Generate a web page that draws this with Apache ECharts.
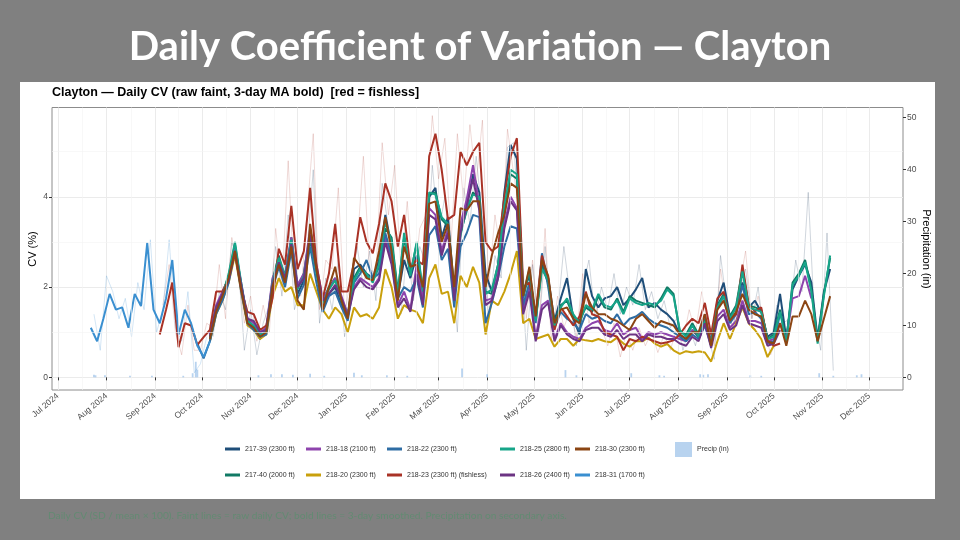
<!DOCTYPE html>
<html><head><meta charset="utf-8">
<script src="https://cdn.jsdelivr.net/npm/echarts@6/dist/echarts.min.js"></script>
<style>html,body{margin:0;padding:0;background:#808080;}#c{width:960px;height:540px;}</style>
</head><body><div id="c"></div>
<script>
// ---------- tick labels ----------
const monthTicks = ['2024-07-01','2024-08-01','2024-09-01','2024-10-01','2024-11-01','2024-12-01','2025-01-01','2025-02-01','2025-03-01','2025-04-01','2025-05-01','2025-06-01','2025-07-01','2025-08-01','2025-09-01','2025-10-01','2025-11-01','2025-12-01'];
const monthLabels = ['Jul 2024','Aug 2024','Sep 2024','Oct 2024','Nov 2024','Dec 2024','Jan 2025','Feb 2025','Mar 2025','Apr 2025','May 2025','Jun 2025','Jul 2025','Aug 2025','Sep 2025','Oct 2025','Nov 2025','Dec 2025'];
const cvTicks = [0, 2, 4];
const cvMinorTicks = [1, 3, 5];
const precipTicks = [0, 10, 20, 30, 40, 50];

// ---------- sampling grid of the 3-day MA lines (every 4 days) ----------
const gridStart = '2024-07-22';
const gridStepDays = 4;
const gridCount = 119;
// ---------- sampling grid of the raw lines (every 4 days, offset) ----------
const rawStart = '2024-07-20';
const rawCount = 120;

// ---------- 3-day MA CV (%) per site; start_* = first grid index ----------
const start_218_31 = 0;
const cv_218_31 = [1.1,0.8,1.3,1.85,1.5,1.55,1.1,1.85,1.58,2.98,1.5,1.2,1.75,2.6,0.95,1.5,1.2,0.7,0.45,0.8];

const start_218_23 = 11;
const cv_218_23 = [0.95,1.5,2.1,0.67,1.2,1.15,0.72,0.89,1.05,1.9,
 1.9,2.2,2.75,1.95,1.45,1.4,1.05,1.15,1.75,2.85,
 2.5,3.8,2.4,2.8,4.2,2.5,1.75,2.3,3.4,1.9,
 1.9,2.55,3.55,3.0,2.75,3.4,4.3,3.9,2.9,3.6,
 2.45,2.6,2.5,4.9,5.4,4.6,3.5,3.6,5.0,4.7,
 5.0,5.2,3.0,2.8,2.9,4.0,4.9,5.3,2.0,2.1,
 1.4,2.7,2.2,1.05,1.55,1.35,1.15,1.35,1.9,1.4,
 1.35,1.0,0.95,0.9,0.6,0.85,0.8,0.9,0.85,0.8,
 0.75,0.78,0.82,0.95,1.15,1.3,1.2,1.65,0.95,1.75,
 1.9,1.3,1.4,2.5,1.6,1.47,1.55,0.8,0.7,0.75];

const start_218_20 = 19;
const cv_218_20 = [0.8,1.4,1.7,2.1,2.7,1.9,1.15,1.05,0.85,0.95,
 1.8,2.2,1.9,2.0,1.6,1.6,2.3,1.9,1.5,1.3,
 1.55,1.4,1.0,1.55,1.35,1.4,1.3,1.55,2.4,2.0,
 1.3,1.6,1.5,1.45,1.2,2.2,2.5,1.85,1.9,1.2,
 2.25,2.0,2.45,2.1,0.95,1.7,1.6,1.9,2.3,2.8,
 1.2,1.3,0.85,0.9,0.95,0.68,0.85,0.85,0.7,0.85,
 0.82,0.8,0.85,0.8,0.78,0.88,0.75,0.68,0.8,0.8,
 0.88,0.75,0.68,0.74,0.6,0.52,0.58,0.55,0.58,0.55,
 0.35,0.8,1.2,0.85,1.2,1.55,1.2,1.05,0.85,0.45,
 0.7];

const start_217_39 = 19;
const cv_217_39 = [0.8,1.45,1.75,2.15,2.9,2.0,1.2,1.1,0.9,1.0,
 2.0,2.55,2.1,2.9,1.85,2.15,3.05,2.4,1.55,1.85,
 2.0,1.6,1.3,2.4,2.5,2.3,2.2,2.6,3.6,2.9,
 1.8,2.6,2.2,2.7,1.9,4.0,4.2,3.1,3.55,1.9,
 3.3,3.8,4.5,4.1,2.3,1.9,2.5,4.1,5.15,4.85,
 1.9,2.25,1.35,2.5,2.2,1.25,1.75,2.2,1.3,0.95,
 2.4,1.8,1.55,1.75,1.8,2.0,1.6,1.75,1.95,2.2,
 1.55,1.65,1.5,1.4,1.25,0.95,0.85,1.05,0.9,1.2,
 0.8,1.7,2.1,1.35,1.55,2.1,1.55,1.7,1.45,0.9,
 1.0,1.85,0.85,1.95,2.25,2.5,2.1,0.85,1.9,2.4];

const start_217_40 = 19;
const cv_217_40 = [0.9,1.5,1.85,2.25,2.95,2.05,1.3,1.1,0.85,1.05,
 2.15,2.7,2.2,3.1,2.0,2.3,3.2,2.35,1.7,2.0,
 2.2,1.75,1.4,2.2,2.45,2.25,2.15,2.45,3.3,3.1,
 1.9,3.1,2.3,2.95,1.85,4.05,4.1,3.5,3.35,1.85,
 3.2,3.7,4.1,3.95,1.9,1.85,2.45,3.6,4.5,4.4,
 1.75,2.35,1.3,2.45,2.1,1.2,1.6,1.7,1.35,1.25,
 1.55,1.45,1.8,1.55,1.5,1.75,1.45,1.8,1.7,1.65,
 1.6,1.55,1.75,2.0,1.85,1.0,0.95,1.2,0.95,1.3,
 0.8,1.6,1.85,1.35,1.6,2.4,1.6,1.55,1.5,0.85,
 0.95,1.5,0.8,2.1,2.3,2.6,1.95,0.8,1.85,2.65];

const start_218_18 = 19;
const cv_218_18 = [0.95,1.6,1.9,2.2,2.85,2.1,1.3,1.2,1.0,1.1,
 2.2,2.5,2.3,3.1,2.05,2.3,3.3,2.5,1.75,1.95,
 2.2,1.8,1.4,2.0,2.2,2.1,2.0,2.2,3.1,2.6,
 1.6,1.9,1.5,2.5,1.7,3.75,3.6,2.8,3.3,1.8,
 3.4,3.95,4.7,3.8,1.7,1.75,2.3,3.4,4.0,3.75,
 1.5,2.0,0.9,1.6,1.7,0.85,1.2,1.0,0.9,0.85,
 1.1,1.2,1.25,1.05,1.0,1.2,0.95,1.05,1.1,0.85,
 1.0,0.95,1.0,0.95,0.9,0.85,0.8,1.05,0.95,1.4,
 0.75,1.35,1.5,1.1,1.25,1.7,1.25,1.25,1.2,0.8,
 0.85,1.2,0.85,1.75,1.8,2.25,1.75];

const start_218_22 = 17;
const cv_218_22 = [0.75,0.42,
 0.8,1.4,1.7,2.1,2.8,1.9,1.2,1.05,0.9,0.95,
 1.95,2.45,2.0,2.8,1.75,2.05,2.9,2.1,1.45,1.8,
 1.9,1.55,1.25,2.1,2.3,2.6,2.2,2.3,3.2,2.7,
 1.75,2.0,1.9,2.2,1.55,3.15,3.35,2.6,2.85,1.55,
 2.9,3.2,3.6,3.55,1.2,1.65,2.2,2.9,3.35,3.3,
 1.6,2.1,1.2,2.75,2.0,1.1,1.45,1.3,1.2,1.05,
 1.4,1.3,1.35,1.25,1.2,1.4,1.15,1.3,1.35,1.45,
 1.3,1.2,1.15,1.1,1.0,0.9,0.8,0.95,0.85,1.15,
 0.7,1.55,1.8,1.2,1.4,2.05,1.4,1.45,1.3,0.75,
 0.8,1.4];

const start_218_25 = 19;
const cv_218_25 = [0.85,1.55,1.8,2.3,3.0,2.1,1.25,1.15,0.95,1.0,
 2.1,2.65,2.25,3.05,1.95,2.25,3.1,2.3,1.65,1.95,
 2.15,1.7,1.35,2.15,2.4,2.3,2.1,2.5,3.45,3.0,
 1.85,3.2,2.25,3.0,1.9,4.1,4.05,3.55,3.4,1.9,
 3.15,3.75,4.05,4.0,1.85,1.95,2.5,3.8,4.6,4.5,
 1.8,2.4,1.25,2.4,2.15,1.15,1.55,1.75,1.4,1.2,
 1.6,1.5,1.85,1.6,1.55,1.7,1.4,1.75,1.65,1.6,
 1.65,1.6,1.7,1.95,1.8,1.05,0.9,1.15,0.9,1.25,
 0.75,1.55,1.8,1.3,1.55,2.35,1.55,1.5,1.45,0.85,
 0.9,1.45,0.75,2.05,2.25,2.55,1.9,0.75,1.8,2.7];

const start_218_26 = 19;
const cv_218_26 = [0.9,1.55,1.85,2.15,2.8,2.05,1.3,1.25,1.0,1.05,
 2.05,2.55,2.2,2.95,2.0,2.2,3.15,2.4,1.7,1.85,
 2.05,1.75,1.35,1.95,2.15,2.0,1.95,2.15,3.0,2.5,
 1.55,1.75,1.45,2.3,1.6,3.6,3.5,2.7,3.2,1.7,
 3.2,3.8,4.4,3.7,1.6,1.7,2.2,3.3,3.9,3.7,
 1.4,1.9,0.8,1.5,1.65,0.8,1.15,0.95,0.85,0.8,
 1.05,1.1,1.1,0.95,0.9,1.05,0.85,0.95,0.95,0.8,
 0.95,0.9,0.9,0.85,0.85,0.75,0.7,0.9,0.8,1.2,
 0.65,1.25,1.4,1.05,1.15,1.6,1.2,1.15,1.1,0.7,
 0.75,1.05];

const start_218_30 = 19;
const cv_218_30 = [0.85,1.45,1.8,2.2,2.8,1.95,1.2,1.1,0.9,1.0,
 2.0,2.5,2.1,2.9,1.7,1.5,3.4,2.4,1.5,2.0,
 2.45,1.7,1.3,2.65,2.45,2.2,2.15,2.8,3.55,2.8,
 1.7,2.9,2.45,2.5,2.0,3.85,3.9,3.0,3.4,2.0,
 3.75,3.7,3.9,3.9,2.0,2.7,3.2,3.6,4.3,4.2,
 1.8,2.45,1.35,2.6,2.25,1.2,1.5,1.55,1.3,1.2,
 1.85,1.55,1.4,1.4,1.3,1.25,1.15,1.05,1.3,1.4,
 1.25,1.1,1.25,1.2,1.15,0.95,0.85,1.0,1.0,1.4,
 0.7,1.5,1.7,1.25,1.45,1.85,1.5,1.4,1.35,0.8,
 0.75,1.2,0.7,1.35,1.35,1.7,1.4,0.8,1.3,1.8];

// ---------- raw daily CV (%) (faint), sampled on the raw grid ----------
const rawStart_218_31 = 1;
const raw_218_31 = [1.4,0.6,2.25,1.9,1.3,1.75,0.9,2.1,1.5,3.05,1.0,1.5,3.05,1.1,0.8,1.9,0.1,0.3,0.9];

const rawStart_218_23 = 12;
const raw_218_23 = [1.6,2.5,1.0,0.5,1.6,0.6,0.6,1.2,1.1,
 2.5,1.3,3.1,2.3,1.2,1.8,0.8,1.6,1.0,3.3,
 2.0,4.8,2.0,1.8,3.6,5.4,1.5,2.6,2.4,4.2,
 1.4,2.2,2.9,4.9,2.4,2.3,5.2,3.6,4.7,2.4,
 3.9,2.0,3.3,3.6,5.8,4.4,5.3,3.0,5.4,3.9,
 5.6,4.3,5.7,2.0,3.6,2.7,5.5,4.5,3.6,1.3,
 2.6,1.1,3.3,0.8,1.8,1.1,1.5,0.9,2.3,1.2,
 1.7,1.1,0.7,1.2,0.45,1.0,0.6,1.1,0.7,1.0,
 0.55,0.95,0.6,1.1,0.8,1.5,1.0,1.9,1.1,0.7,
 2.4,1.5,1.1,2.0,2.8,1.3,1.8,1.1,0.5,0.9];

const rawStart_217_39 = 20;
const raw_217_39 = [0.9,1.9,1.5,3.0,2.6,0.6,1.5,0.5,1.2,1.6,
 2.9,1.8,3.6,1.5,2.0,2.8,4.6,1.2,2.2,1.5,
 2.6,0.9,2.0,2.9,2.0,2.8,1.7,4.3,3.3,2.0,
 1.4,2.9,1.7,2.9,2.5,4.7,3.2,4.0,2.5,1.0,
 4.2,3.4,4.9,3.5,1.3,2.7,2.2,5.1,5.2,3.0,
 0.6,2.5,1.0,2.9,1.1,1.4,2.9,1.8,0.7,2.0,
 2.6,1.3,2.0,1.5,2.3,1.4,2.0,1.6,2.5,1.5,
 1.9,1.3,1.7,1.1,1.3,0.6,1.1,0.7,1.3,0.9,
 0.4,2.7,1.6,1.1,1.9,2.4,1.3,2.0,0.9,0.7,
 1.6,1.2,1.3,2.6,1.9,4.1,1.3,0.6,3.2,0.15];

// ---------- daily precipitation (in) on rain days ----------
const precipDates = ['2024-07-24','2024-07-25','2024-07-31','2024-08-16','2024-08-30','2024-09-19','2024-09-25','2024-09-27','2024-09-28','2024-11-06','2024-11-14','2024-11-21','2024-11-28','2024-12-09','2024-12-18','2025-01-06','2025-01-11','2025-01-27','2025-02-09','2025-03-16','2025-04-01','2025-05-21','2025-05-28','2025-07-02','2025-07-20','2025-07-23','2025-08-15','2025-08-17','2025-08-20','2025-09-16','2025-09-23','2025-10-30','2025-11-08','2025-11-23','2025-11-26'];
const precipValues = [0.5,0.4,0.4,0.3,0.3,0.3,0.8,3.0,1.5,0.4,0.6,0.6,0.5,0.7,0.3,0.9,0.4,0.4,0.3,1.7,0.6,1.4,0.4,0.8,0.4,0.3,0.6,0.5,0.6,0.4,0.3,0.8,0.3,0.4,0.6];

// ---------- build ----------
function ts(s){ const p = s.split('-').map(Number); return Date.UTC(p[0], p[1]-1, p[2]); }
function makeGrid(startStr, count){
  const p = startStr.split('-').map(Number); const out = [];
  for (let i = 0; i < count; i++) out.push(Date.UTC(p[0], p[1]-1, p[2] + gridStepDays*i));
  return out;
}
const gridDates = makeGrid(gridStart, gridCount);
const rawDates = makeGrid(rawStart, rawCount);
function pairs(dates, start, vals){ return vals.map((v, k) => [dates[start + k], v]); }

const sites = [
  {name:'217-39 (2300 ft)', color:'#1F4E79', start:start_217_39, vals:cv_217_39},
  {name:'217-40 (2000 ft)', color:'#117A65', start:start_217_40, vals:cv_217_40},
  {name:'218-18 (2100 ft)', color:'#8E44AD', start:start_218_18, vals:cv_218_18},
  {name:'218-20 (2300 ft)', color:'#C9A00C', start:start_218_20, vals:cv_218_20},
  {name:'218-22 (2300 ft)', color:'#2E6DA4', start:start_218_22, vals:cv_218_22},
  {name:'218-23 (2300 ft) (fishless)', color:'#A93226', start:start_218_23, vals:cv_218_23},
  {name:'218-25 (2800 ft)', color:'#17A589', start:start_218_25, vals:cv_218_25},
  {name:'218-26 (2400 ft)', color:'#6C3483', start:start_218_26, vals:cv_218_26},
  {name:'218-30 (2300 ft)', color:'#8B4513', start:start_218_30, vals:cv_218_30},
  {name:'218-31 (1700 ft)', color:'#3A8FD0', start:start_218_31, vals:cv_218_31}
];
const raws = [
  {name:'217-39 raw', color:'rgba(40,70,100,0.22)', start:rawStart_217_39, vals:raw_217_39},
  {name:'218-23 raw', color:'rgba(169,50,38,0.18)', start:rawStart_218_23, vals:raw_218_23},
  {name:'218-31 raw', color:'rgba(58,143,208,0.22)', start:rawStart_218_31, vals:raw_218_31}
];

const monthTs = monthTicks.map(ts);
const midMonths = [];
for (let k = 0; k < monthTs.length - 1; k++) midMonths.push((monthTs[k] + monthTs[k+1]) / 2);
const xMin = ts('2024-06-27') + 5*3600e3;
const xMax = ts('2025-12-22') + 12*3600e3;

const FONT = 'Liberation Sans, Arial, sans-serif';
const series = [];
series.push({
  name:'__grid', type:'line', data:[], yAxisIndex:0, silent:true, z:0,
  markLine:{silent:true, symbol:'none', animation:false, label:{show:false},
    lineStyle:{color:'#f3f3f3', width:0.6, type:'solid'},
    data: midMonths.map(v => ({xAxis:v})).concat(cvMinorTicks.map(v => ({yAxis:v})))}
});
series.push({
  name:'Precip (in)', type:'bar', yAxisIndex:1, barWidth:1.8, z:1,
  itemStyle:{color:'rgba(160,196,234,0.75)'},
  data: precipDates.map((d,k) => [ts(d), precipValues[k]])
});
raws.forEach(s => series.push({
  name:s.name, type:'line', yAxisIndex:0, showSymbol:false, symbol:'none', z:2, silent:true,
  color:s.color, lineStyle:{color:s.color, width:1}, data:pairs(rawDates, s.start, s.vals)
}));
sites.forEach(s => series.push({
  name:s.name, type:'line', yAxisIndex:0, showSymbol:false, symbol:'none', z:3,
  color:s.color, lineStyle:{color:s.color, width:2}, data:pairs(gridDates, s.start, s.vals), connectNulls:false
}));

const legendBase = {orient:'vertical', top:445.5, itemGap:19, itemWidth:15, itemHeight:3, icon:'rect', padding:0, selectedMode:false,
  textStyle:{fontSize:7, color:'#333', fontFamily:FONT}};
const legendCols = [
  {left:225, data:['217-39 (2300 ft)','217-40 (2000 ft)']},
  {left:306, data:['218-18 (2100 ft)','218-20 (2300 ft)']},
  {left:387, data:['218-22 (2300 ft)','218-23 (2300 ft) (fishless)']},
  {left:500, data:['218-25 (2800 ft)','218-26 (2400 ft)']},
  {left:575, data:['218-30 (2300 ft)','218-31 (1700 ft)']}
].map(c => Object.assign({}, legendBase, c));
legendCols.push(Object.assign({}, legendBase, {left:675, top:442, itemWidth:17, itemHeight:15, data:['Precip (in)']}));

const chart = echarts.init(document.getElementById('c'), null, {renderer:'canvas'});
chart.setOption({
  backgroundColor:'#808080',
  animation:false,
  graphic:[
    {type:'rect', z:-100, shape:{x:20, y:82, width:915, height:417}, style:{fill:'#ffffff'}},
    {type:'text', z:10, x:480, y:47, style:{text:'Daily Coefficient of Variation — Clayton', fill:'#ffffff', font:'bold 40px Lato, "Open Sans", sans-serif', textAlign:'center', textVerticalAlign:'middle'}},
    {type:'text', z:10, x:52, y:93, style:{text:'Clayton — Daily CV (raw faint, 3-day MA bold)  [red = fishless]', fill:'#000', font:'bold 12.5px ' + FONT, textAlign:'left', textVerticalAlign:'middle'}},
    {type:'text', z:10, x:33, y:249, rotation:Math.PI/2, style:{text:'CV (%)', fill:'#000', font:'11px ' + FONT, textAlign:'center', textVerticalAlign:'middle'}},
    {type:'text', z:10, x:926, y:249, rotation:-Math.PI/2, style:{text:'Precipitation (in)', fill:'#000', font:'11px ' + FONT, textAlign:'center', textVerticalAlign:'middle'}},
    {type:'text', z:10, x:48, y:516, style:{text:'Daily CV (SD / mean × 100). Faint lines = raw daily CV; bold lines = 3-day smoothed. Precipitation on secondary axis.', fill:'#638a72', font:'10.2px Lato, "Open Sans", sans-serif', textAlign:'left', textVerticalAlign:'middle'}}
  ],
  legend: legendCols,
  grid:{left:52, top:107.5, right:57, bottom:150, show:true, borderColor:'#8c8c8c', borderWidth:1, backgroundColor:'transparent', containLabel:false},
  xAxis:{type:'value', min:xMin, max:xMax,
    axisLine:{show:false},
    axisTick:{show:true, length:3, lineStyle:{color:'#333'}, customValues:monthTs},
    axisLabel:{customValues:monthTs, rotate:40, fontSize:8.5, color:'#4d4d4d', fontFamily:FONT, margin:5,
      formatter:function(v){ const k = monthTs.indexOf(v); return k >= 0 ? monthLabels[k] : ''; }},
    splitLine:{show:true, lineStyle:{color:'#ebebeb', width:1}}
  },
  yAxis:[
    {type:'value', min:-0.28, max:5.98, position:'left',
      axisLine:{show:false}, axisTick:{show:true, length:3, lineStyle:{color:'#333'}, customValues:cvTicks},
      axisLabel:{customValues:cvTicks, fontSize:8.5, color:'#4d4d4d', fontFamily:FONT, margin:4},
      splitLine:{show:true, lineStyle:{color:'#ebebeb', width:1}}},
    {type:'value', min:-2.43, max:51.9, position:'right',
      axisLine:{show:false}, axisTick:{show:true, length:3, lineStyle:{color:'#333'}, customValues:precipTicks},
      axisLabel:{customValues:precipTicks, fontSize:8.5, color:'#4d4d4d', fontFamily:FONT, margin:4},
      splitLine:{show:false}}
  ],
  series: series
});
</script></body></html>
